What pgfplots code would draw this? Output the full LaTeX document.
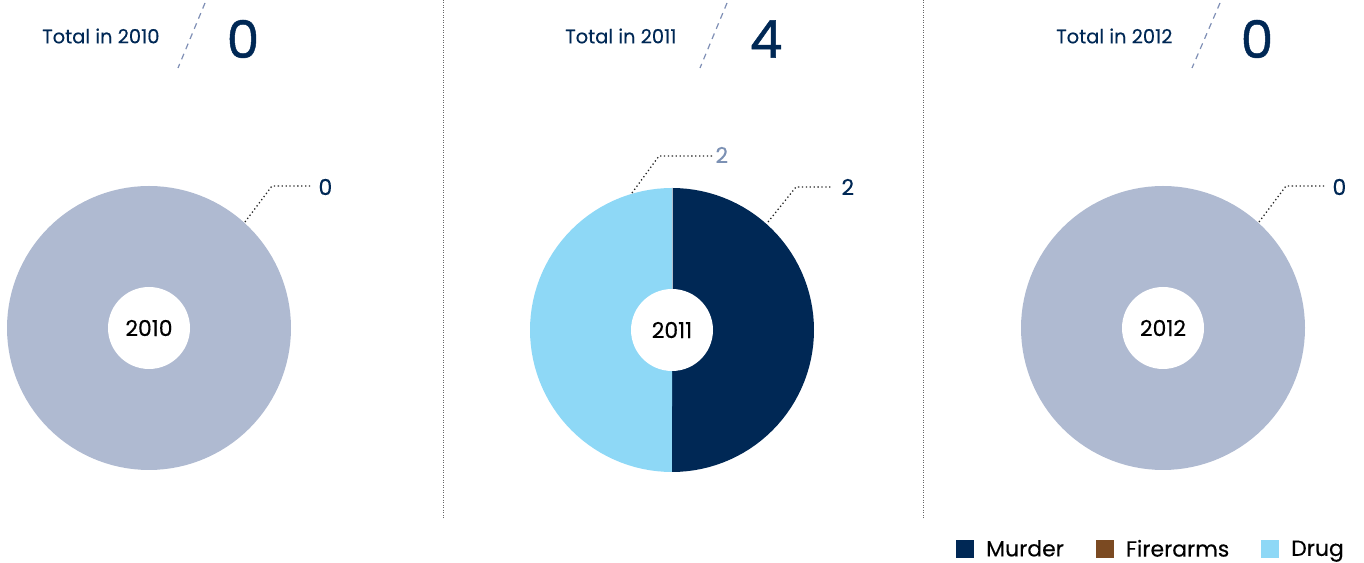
\documentclass[border=0pt]{standalone}
\usepackage{pgfplots}
\pgfplotsset{compat=1.18}
\usepackage{pgfplotstable}
\usepackage{fontspec}
\setmainfont{Poppins}
\newfontfamily\medfont{Poppins}[FakeBold=0.9]
\newfontfamily\semifont{Poppins}[FakeBold=0.35]
\definecolor{navy}{HTML}{002855}
\definecolor{pgrey}{HTML}{AFBAD1}
\definecolor{lblue}{HTML}{8ED8F6}
\definecolor{fbrown}{HTML}{7B4A22}
\definecolor{lbl}{HTML}{7C91B4}
\definecolor{dashcol}{HTML}{7F8FB5}
% Year, Murder, Firearms, Drug, Total
\pgfplotstableread{
year murder firearms drug total
2010 0 0 0 0
2011 2 0 2 4
2012 0 0 0 0
}\crimedata
\tikzset{leader/.style={line width=1.3bp, black!85, dash pattern=on 1.3bp off 2.6bp}}
\begin{document}
\begin{tikzpicture}
\begin{axis}[
  x=1bp, y=1bp, xmin=0, xmax=1364, ymin=0, ymax=563,
  hide axis, clip=false, scale only axis,
  legend columns=3,
  legend style={draw=none, fill=none, inner sep=0pt, at={(axis cs:1346,14)}, anchor=east,
    font=\semifont\fontsize{22}{24}\selectfont, column sep=10bp,
    nodes={inner sep=2bp},
    /tikz/every even column/.append style={column sep=30bp}},
  legend image code/.code={\fill[#1, draw=none] (0bp,-9bp) rectangle (18bp,9bp);},
]
\coordinate (SW) at (axis cs:0,0);
\coordinate (NE) at (axis cs:1364,563);
% legend entries
\addlegendimage{fill=navy, draw=none}\addlegendentry{Murder}
\addlegendimage{fill=fbrown, draw=none}\addlegendentry{Firerarms}
\addlegendimage{fill=lblue, draw=none}\addlegendentry{Drug}
% ---------- 2010: total 0 -> full grey ring ----------
\addplot[forget plot, fill=pgrey, draw=none, domain=0:360, samples=121, variable=\t]
  ({149+142*cos(\t)}, {235+142*sin(\t)}) -- cycle;
% ---------- 2011: Murder 2, Firearms 0, Drug 2 (of 4) ----------
\addplot[forget plot, fill=navy, draw=none, domain={90-360*2/4}:90, samples=61, variable=\t]
  ({672+142*cos(\t)}, {233+142*sin(\t)}) -- (axis cs:672,233) -- cycle;
\addplot[forget plot, fill=lblue, draw=none, domain=90:{90+360*2/4}, samples=61, variable=\t]
  ({672+142*cos(\t)}, {233+142*sin(\t)}) -- (axis cs:672,233) -- cycle;
% ---------- 2012: total 0 ----------
\addplot[forget plot, fill=pgrey, draw=none, domain=0:360, samples=121, variable=\t]
  ({1163+142*cos(\t)}, {235+142*sin(\t)}) -- cycle;
% inner white holes
\addplot[forget plot, fill=white, draw=none, domain=0:360, samples=61, variable=\t]
  ({149+41*cos(\t)}, {235+41*sin(\t)}) -- cycle;
\addplot[forget plot, fill=white, draw=none, domain=0:360, samples=61, variable=\t]
  ({672+41*cos(\t)}, {233+41*sin(\t)}) -- cycle;
\addplot[forget plot, fill=white, draw=none, domain=0:360, samples=61, variable=\t]
  ({1163+41*cos(\t)}, {235+41*sin(\t)}) -- cycle;
% center labels
\node[font=\semifont\fontsize{22}{24}\selectfont] at (axis cs:149,235) {2010};
\node[font=\semifont\fontsize{22}{24}\selectfont] at (axis cs:672,233) {2011};
\node[font=\semifont\fontsize{22}{24}\selectfont] at (axis cs:1163,235) {2012};
% leader lines
\draw[leader] (axis cs:245,341) -- (axis cs:272,377) -- (axis cs:312,377);
\node[text=navy, font=\semifont\fontsize{22}{24}\selectfont, anchor=west] at (axis cs:315,376) {0};
\draw[leader] (axis cs:768,341) -- (axis cs:796,376) -- (axis cs:833,376);
\node[text=navy, font=\semifont\fontsize{22}{24}\selectfont, anchor=west] at (axis cs:838,376) {2};
\draw[leader] (axis cs:632,370) -- (axis cs:659,407) -- (axis cs:713,407);
\node[text=lbl, font=\semifont\fontsize{22}{24}\selectfont, anchor=west] at (axis cs:712,408) {2};
\draw[leader] (axis cs:1259,341) -- (axis cs:1286,377) -- (axis cs:1326,377);
\node[text=navy, font=\semifont\fontsize{22}{24}\selectfont, anchor=west] at (axis cs:1329,376) {0};
% headers
\node[text=navy, font=\semifont\fontsize{19.5}{22}\selectfont, anchor=west, inner sep=0pt] at (axis cs:42,527) {Total in 2010};
\node[text=navy, font=\semifont\fontsize{19.5}{22}\selectfont, anchor=west, inner sep=0pt] at (axis cs:565,527) {Total in 2011};
\node[text=navy, font=\semifont\fontsize{19.5}{22}\selectfont, anchor=west, inner sep=0pt] at (axis cs:1056,527) {Total in 2012};
\draw[dashcol, line width=1.2bp, dash pattern=on 6bp off 5bp] (axis cs:205,560) -- (axis cs:178,495);
\draw[dashcol, line width=1.2bp, dash pattern=on 6bp off 5bp] (axis cs:727,560) -- (axis cs:700,495);
\draw[dashcol, line width=1.2bp, dash pattern=on 6bp off 5bp] (axis cs:1220,560) -- (axis cs:1192,495);
\node[text=navy, font=\medfont\fontsize{52}{56}\selectfont] at (axis cs:243,524) {0};
\node[text=navy, font=\medfont\fontsize{52}{56}\selectfont] at (axis cs:766,524) {4};
\node[text=navy, font=\medfont\fontsize{52}{56}\selectfont] at (axis cs:1257,524) {0};
% dividers
\draw[black!60, line width=0.9bp, dash pattern=on 0.9bp off 1.6bp] (axis cs:443,563) -- (axis cs:443,44);
\draw[black!60, line width=0.9bp, dash pattern=on 0.9bp off 1.6bp] (axis cs:923,563) -- (axis cs:923,44);
% thin separator between 2011 slices
\draw[white!70!navy, line width=0.8bp] (axis cs:672,375) -- (axis cs:672,274);
\end{axis}
\pgfresetboundingbox
\path[use as bounding box] (SW) rectangle (NE);
\end{tikzpicture}
\end{document}
